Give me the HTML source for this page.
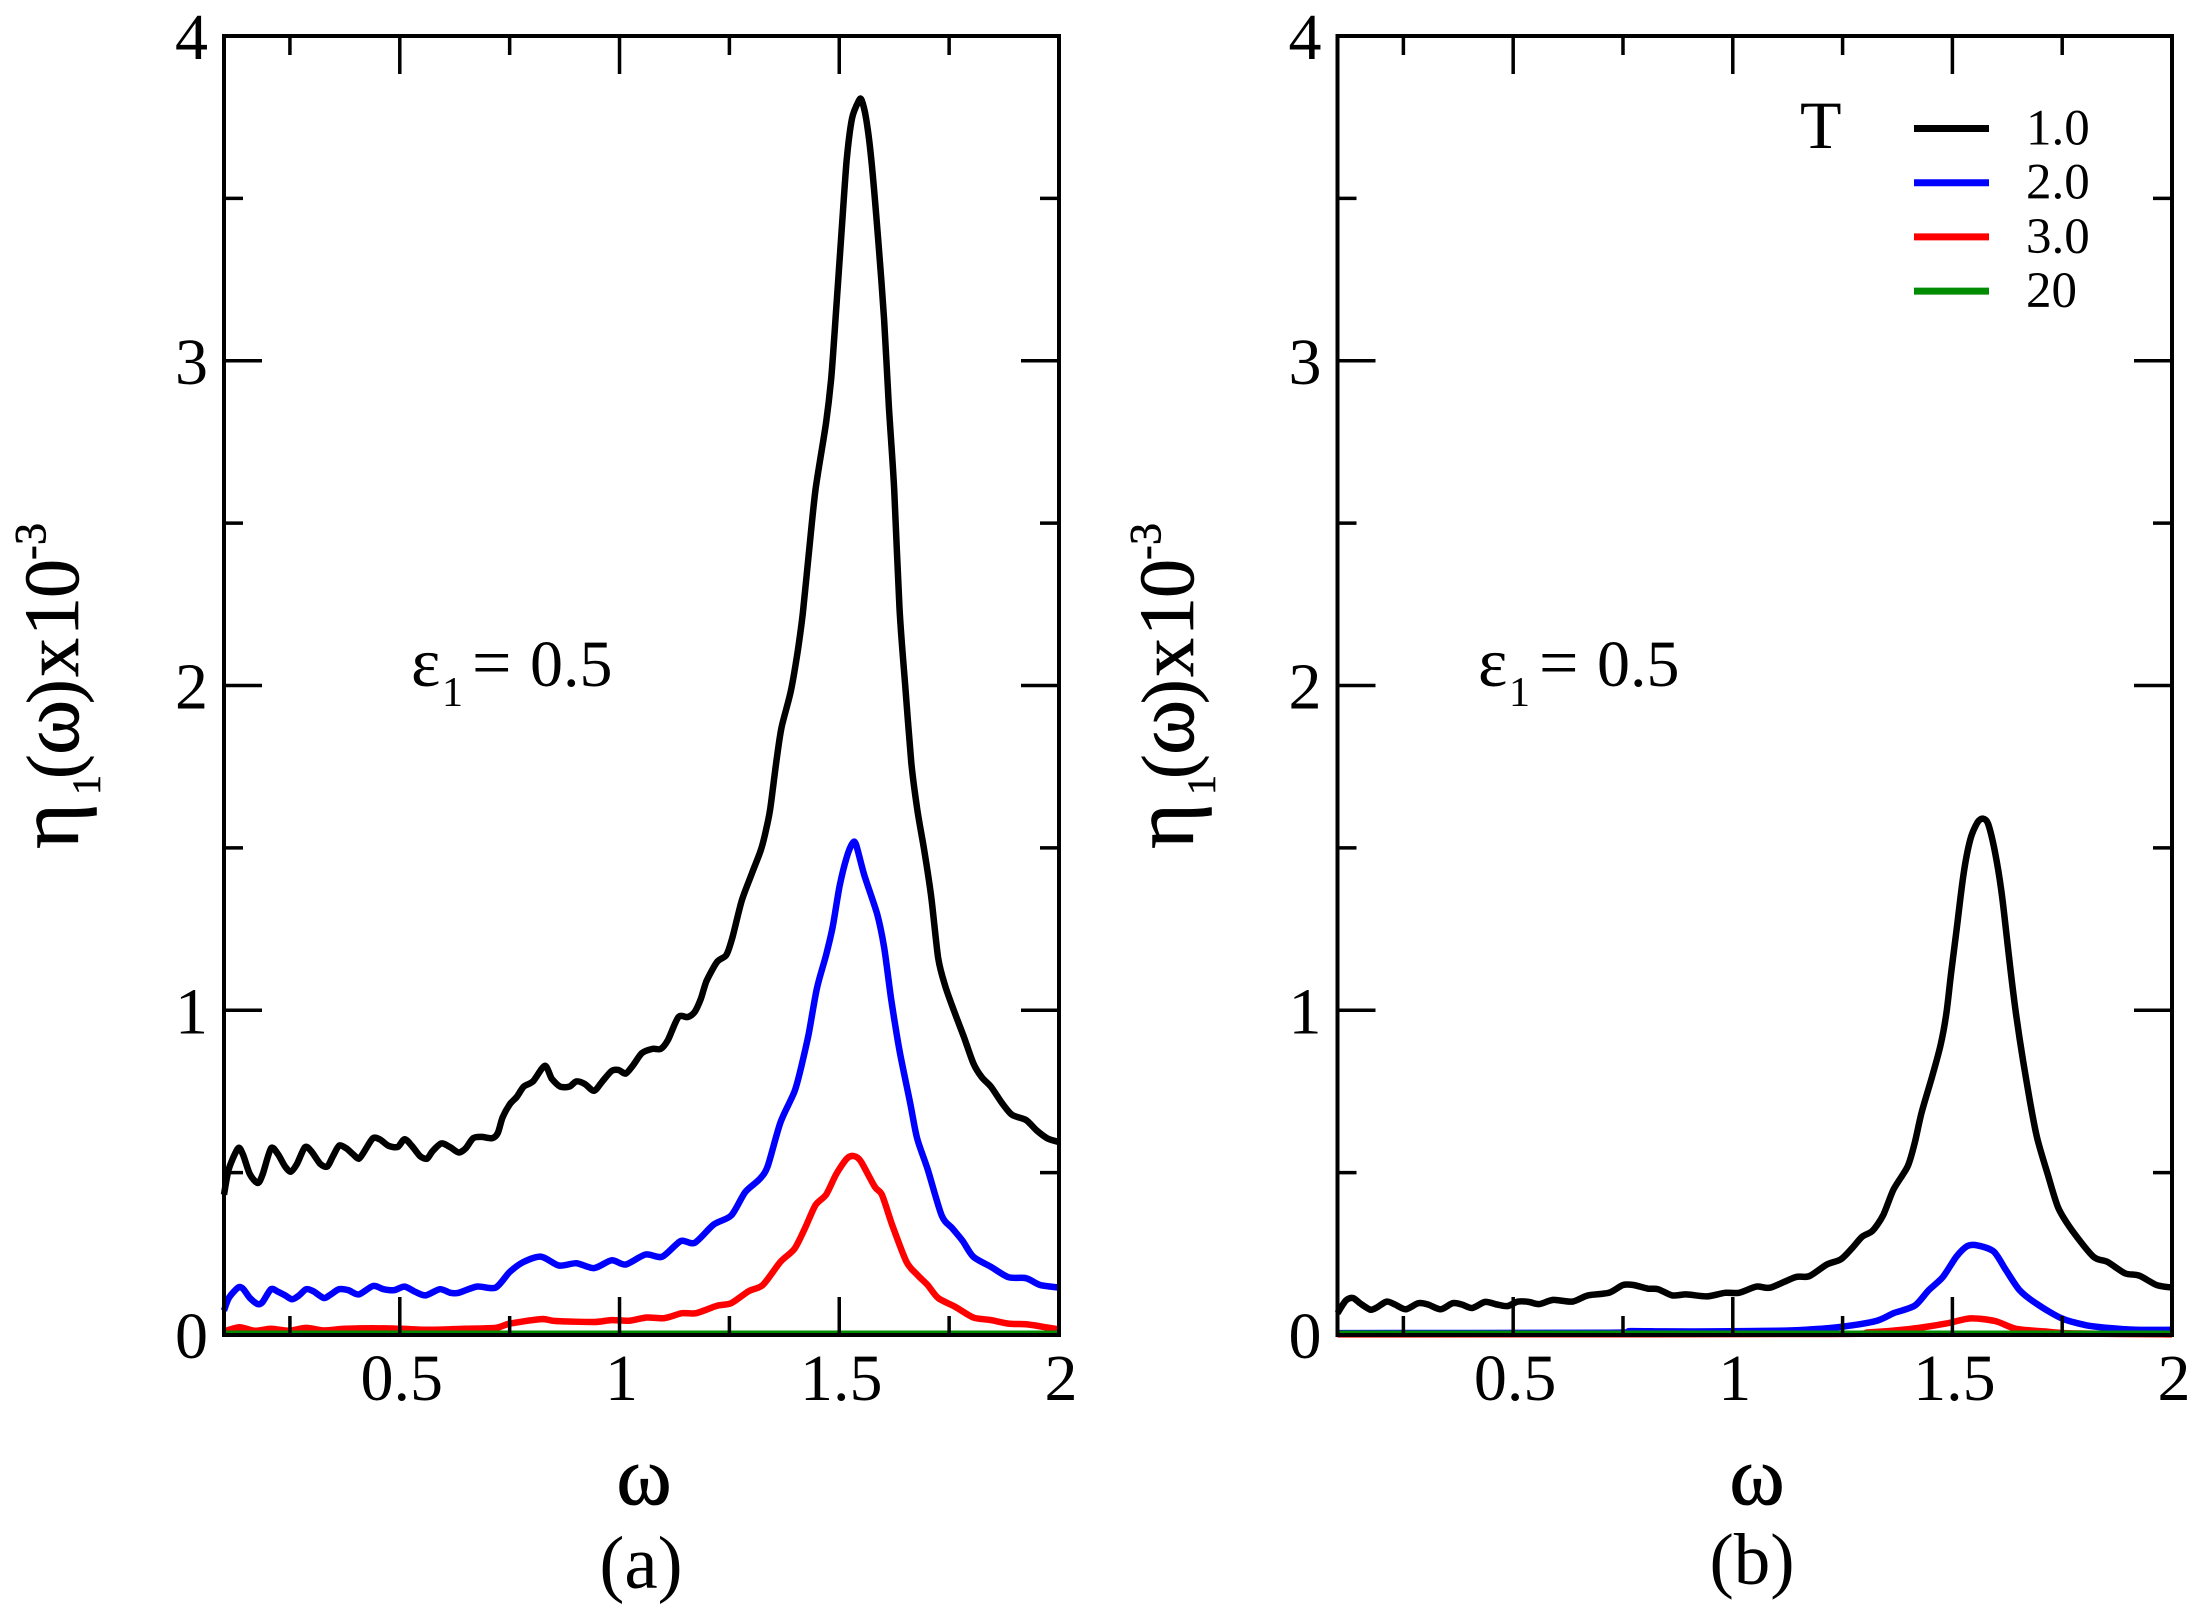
<!DOCTYPE html>
<html>
<head>
<meta charset="utf-8">
<title>Viscosity spectra</title>
<style>
html,body{margin:0;padding:0;background:#fff;}
svg{display:block;}
text{font-family:"Liberation Serif","DejaVu Serif",serif;fill:#000;}
</style>
</head>
<body>
<svg id="chart" xmlns="http://www.w3.org/2000/svg" width="2204" height="1616" viewBox="0 0 2204 1616">
  <rect x="0" y="0" width="2204" height="1616" fill="#fff"/>
  <g id="panel-a"></g>
  <g id="panel-b"></g>

  <g>
    <text transform="rotate(-90)" font-size="78" stroke="#000" stroke-width="0.6">
      <tspan x="-849" y="78" font-size="88">η</tspan><tspan x="-795" y="100" font-size="40">1</tspan><tspan x="-779" y="78" font-size="74">(</tspan><tspan x="-755" y="78" font-size="84">ω</tspan><tspan x="-704" y="78" font-size="74">)</tspan><tspan x="-677" y="78">x</tspan><tspan x="-636" y="78">1</tspan><tspan x="-598" y="78">0</tspan><tspan x="-560" y="45" font-size="44">-</tspan><tspan x="-545" y="45" font-size="44">3</tspan>
    </text>
  </g>
  <g transform="translate(1115,0)">
    <text transform="rotate(-90)" font-size="78" stroke="#000" stroke-width="0.6">
      <tspan x="-849" y="78" font-size="88">η</tspan><tspan x="-795" y="100" font-size="40">1</tspan><tspan x="-779" y="78" font-size="74">(</tspan><tspan x="-755" y="78" font-size="84">ω</tspan><tspan x="-704" y="78" font-size="74">)</tspan><tspan x="-677" y="78">x</tspan><tspan x="-636" y="78">1</tspan><tspan x="-598" y="78">0</tspan><tspan x="-560" y="45" font-size="44">-</tspan><tspan x="-545" y="45" font-size="44">3</tspan>
    </text>
  </g>

  <text x="644" y="1504" font-size="84" text-anchor="middle" stroke="#000" stroke-width="0.8">ω</text>
  <text x="1757" y="1504" font-size="84" text-anchor="middle" stroke="#000" stroke-width="0.8">ω</text>
  <text x="641" y="1588" font-size="75" text-anchor="middle">(a)</text>
  <text x="1752" y="1584" font-size="73" text-anchor="middle">(b)</text>

  <text font-size="66"><tspan x="411" y="686" font-size="70">ε</tspan><tspan x="442" y="706" font-size="42">1</tspan><tspan x="472" y="686" font-size="70">=</tspan><tspan x="530" y="686">0.5</tspan></text>
  <text font-size="66"><tspan x="1478" y="686" font-size="70">ε</tspan><tspan x="1509" y="706" font-size="42">1</tspan><tspan x="1539" y="686" font-size="70">=</tspan><tspan x="1597" y="686">0.5</tspan></text>

  <g>
    <text x="1800" y="148" font-size="68">T</text>
    <g id="legend-entries"></g>
  </g>
</svg>
<script>
// ---- shared axis settings ----
const xRange = [0.1, 2];
const yRange = [0, 4];
const xTicks = [0.25, 0.5, 0.75, 1, 1.25, 1.5, 1.75];
const xMajorLabels = ["0.5", "1", "1.5", "2"];
const xMajorValues = [0.5, 1, 1.5, 2];
const yTicks = [0.5, 1, 1.5, 2, 2.5, 3, 3.5];
const yMajorLabels = ["0", "1", "2", "3", "4"];
const yMajorValues = [0, 1, 2, 3, 4];

// ---- legend ----
const legendLabels = ["1.0", "2.0", "3.0", "20"];
const seriesColors = ["#000000", "#0000ff", "#ff0000", "#008b00"];

// ---- panel (a) data ----
const omegaA1 = [0.100,0.111,0.132,0.143,0.159,0.177,0.188,0.207,0.223,0.239,0.252,0.266,0.284,0.298,0.319,0.335,0.348,0.362,0.378,0.394,0.407,0.420,0.439,0.455,0.474,0.495,0.511,0.527,0.546,0.562,0.575,0.595,0.615,0.634,0.650,0.667,0.686,0.710,0.723,0.734,0.750,0.766,0.782,0.803,0.830,0.846,0.865,0.886,0.902,0.921,0.942,0.961,0.982,0.998,1.014,1.030,1.051,1.075,1.094,1.110,1.134,1.155,1.171,1.185,1.198,1.222,1.243,1.257,1.278,1.302,1.322,1.334,1.343,1.358,1.369,1.390,1.406,1.417,1.430,1.446,1.470,1.482,1.493,1.506,1.517,1.529,1.545,1.551,1.561,1.573,1.589,1.602,1.613,1.625,1.637,1.650,1.664,1.677,1.693,1.709,1.725,1.741,1.762,1.784,1.805,1.824,1.845,1.869,1.893,1.925,1.949,1.973,2.000];
const etaA1 = [0.432,0.511,0.575,0.556,0.495,0.468,0.495,0.575,0.556,0.519,0.503,0.527,0.578,0.567,0.527,0.519,0.551,0.583,0.575,0.556,0.543,0.567,0.606,0.602,0.583,0.579,0.603,0.583,0.551,0.543,0.567,0.590,0.578,0.562,0.575,0.606,0.610,0.606,0.622,0.670,0.710,0.733,0.765,0.781,0.829,0.789,0.765,0.765,0.781,0.773,0.752,0.781,0.813,0.816,0.805,0.829,0.868,0.881,0.881,0.908,0.979,0.979,0.995,1.035,1.090,1.149,1.170,1.225,1.337,1.424,1.495,1.559,1.622,1.778,1.873,1.984,2.111,2.222,2.397,2.603,2.810,2.952,3.159,3.413,3.619,3.746,3.802,3.802,3.746,3.619,3.365,3.127,2.857,2.603,2.238,2.000,1.762,1.622,1.495,1.352,1.162,1.075,0.995,0.916,0.837,0.794,0.765,0.717,0.678,0.662,0.630,0.606,0.594];
const omegaA2 = [0.100,0.111,0.132,0.143,0.159,0.177,0.188,0.207,0.223,0.239,0.255,0.271,0.287,0.303,0.327,0.343,0.362,0.383,0.407,0.439,0.463,0.487,0.511,0.535,0.559,0.591,0.615,0.634,0.675,0.718,0.750,0.782,0.822,0.862,0.902,0.942,0.982,1.014,1.059,1.097,1.139,1.171,1.214,1.254,1.286,1.318,1.337,1.366,1.398,1.414,1.430,1.449,1.470,1.485,1.501,1.517,1.530,1.538,1.557,1.586,1.602,1.618,1.637,1.661,1.677,1.701,1.733,1.757,1.781,1.805,1.845,1.885,1.925,1.957,2.000];
const etaA2 = [0.075,0.114,0.146,0.143,0.114,0.095,0.102,0.141,0.133,0.122,0.110,0.122,0.141,0.135,0.114,0.125,0.141,0.138,0.125,0.151,0.141,0.138,0.149,0.133,0.122,0.141,0.130,0.130,0.149,0.146,0.194,0.225,0.241,0.214,0.221,0.206,0.230,0.217,0.248,0.241,0.289,0.284,0.340,0.368,0.440,0.479,0.519,0.654,0.749,0.829,0.924,1.067,1.170,1.257,1.384,1.471,1.514,1.511,1.416,1.297,1.194,1.035,0.876,0.717,0.606,0.511,0.368,0.329,0.289,0.241,0.210,0.178,0.175,0.154,0.146];
const omegaA3 = [0.100,0.135,0.170,0.207,0.247,0.287,0.327,0.375,0.439,0.503,0.567,0.647,0.718,0.750,0.822,0.854,0.942,0.982,1.022,1.062,1.102,1.142,1.174,1.222,1.254,1.294,1.326,1.366,1.398,1.422,1.446,1.470,1.493,1.517,1.533,1.549,1.581,1.597,1.621,1.653,1.677,1.701,1.725,1.765,1.805,1.845,1.885,1.925,1.965,2.000];
const etaA3 = [0.011,0.024,0.013,0.019,0.013,0.022,0.014,0.019,0.021,0.019,0.016,0.019,0.022,0.035,0.049,0.043,0.040,0.046,0.044,0.054,0.052,0.067,0.067,0.090,0.098,0.135,0.154,0.225,0.265,0.329,0.400,0.432,0.495,0.543,0.551,0.535,0.456,0.432,0.337,0.225,0.186,0.154,0.114,0.086,0.054,0.046,0.035,0.033,0.025,0.017];
const omegaA4 = [0.100,1.000,2.000];
const etaA4 = [0.004,0.004,0.004];

// ---- panel (b) data ----
const omegaB1 = [0.100,0.119,0.135,0.151,0.175,0.191,0.212,0.231,0.255,0.284,0.306,0.335,0.362,0.383,0.407,0.436,0.463,0.487,0.511,0.535,0.559,0.591,0.635,0.670,0.718,0.750,0.774,0.806,0.830,0.862,0.894,0.942,0.982,1.014,1.054,1.086,1.142,1.174,1.214,1.246,1.270,1.294,1.318,1.342,1.366,1.398,1.414,1.430,1.454,1.473,1.486,1.497,1.509,1.525,1.541,1.557,1.569,1.581,1.597,1.613,1.629,1.645,1.661,1.677,1.693,1.717,1.741,1.773,1.821,1.853,1.893,1.925,1.965,2.000];
const etaB1 = [0.067,0.106,0.114,0.098,0.078,0.086,0.103,0.094,0.079,0.098,0.094,0.079,0.098,0.094,0.083,0.102,0.094,0.089,0.103,0.102,0.095,0.108,0.103,0.122,0.130,0.154,0.154,0.143,0.141,0.122,0.125,0.119,0.130,0.130,0.149,0.146,0.178,0.181,0.217,0.233,0.265,0.302,0.321,0.368,0.448,0.519,0.590,0.686,0.797,0.892,0.987,1.114,1.241,1.416,1.527,1.578,1.590,1.575,1.487,1.352,1.162,0.987,0.844,0.717,0.606,0.495,0.392,0.321,0.241,0.225,0.190,0.183,0.154,0.146];
const omegaB2 = [0.100,0.718,0.766,0.846,0.958,1.102,1.166,1.246,1.326,1.366,1.414,1.446,1.478,1.509,1.533,1.557,1.594,1.621,1.653,1.693,1.749,1.805,1.853,1.917,2.000];
const etaB2 = [0.006,0.007,0.012,0.011,0.011,0.013,0.016,0.025,0.043,0.067,0.090,0.138,0.178,0.241,0.273,0.276,0.257,0.202,0.138,0.095,0.051,0.030,0.022,0.016,0.016];
const omegaB3 = [0.100,1.200,1.310,1.406,1.485,1.541,1.597,1.645,1.709,1.773,2.000];
const etaB3 = [0.002,0.003,0.008,0.019,0.035,0.051,0.043,0.019,0.011,0.005,0.002];
const omegaB4 = [0.100,1.000,2.000];
const etaB4 = [0.004,0.004,0.004];

const SVGNS = "http://www.w3.org/2000/svg";

function makeEl(tag, parent) {
  const el = document.createElementNS(SVGNS, tag);
  parent.appendChild(el);
  return el;
}

function smoothPath(pts) {
  const t = 0.8 / 6;
  let d = "M" + pts[0][0].toFixed(1) + " " + pts[0][1].toFixed(1);
  for (let i = 0; i < pts.length - 1; i++) {
    const p0 = pts[i - 1] || pts[i];
    const p1 = pts[i];
    const p2 = pts[i + 1];
    const p3 = pts[i + 2] || p2;
    const c1x = p1[0] + (p2[0] - p0[0]) * t;
    const c1y = p1[1] + (p2[1] - p0[1]) * t;
    const c2x = p2[0] - (p3[0] - p1[0]) * t;
    const c2y = p2[1] - (p3[1] - p1[1]) * t;
    d += "C" + c1x.toFixed(1) + " " + c1y.toFixed(1) + " " + c2x.toFixed(1) + " " + c2y.toFixed(1) + " " + p2[0].toFixed(1) + " " + p2[1].toFixed(1);
  }
  return d;
}

function drawPanel(rootId, left, right, top, bottom, allSeries, prefix) {
  const root = document.getElementById(rootId);
  const sx = function (v) { return left + (v - xRange[0]) / (xRange[1] - xRange[0]) * (right - left); };
  const sy = function (v) { return bottom - (v - yRange[0]) / (yRange[1] - yRange[0]) * (bottom - top); };

  allSeries.forEach(function (s, i) {
    const line = makeEl("path", root);
    const pts = s.x.map(function (xv, k) { return [sx(xv), sy(s.y[k])]; });
    line.setAttribute("d", smoothPath(pts));
    line.setAttribute("fill", "none");
    line.setAttribute("stroke", seriesColors[i]);
    line.setAttribute("stroke-width", "6.5");
    line.setAttribute("stroke-linejoin", "round");
    
    
  });

  const frame = makeEl("rect", root);
  frame.setAttribute("x", left);
  frame.setAttribute("y", top);
  frame.setAttribute("width", right - left);
  frame.setAttribute("height", bottom - top);
  frame.setAttribute("fill", "none");
  frame.setAttribute("stroke", "#000");
  frame.setAttribute("stroke-width", "4");
  
  

  xTicks.forEach(function (v) {
    const isMajor = xMajorValues.indexOf(v) >= 0;
    const len = isMajor ? 38 : 19;
    [[bottom, bottom - len], [top, top + len]].forEach(function (p) {
      const t = makeEl("line", root);
      t.setAttribute("x1", sx(v));
      t.setAttribute("x2", sx(v));
      t.setAttribute("y1", p[0]);
      t.setAttribute("y2", p[1]);
      t.setAttribute("stroke", "#000");
      t.setAttribute("stroke-width", "3.5");
      
      
    });
  });

  yTicks.forEach(function (v) {
    const isMajor = yMajorValues.indexOf(v) >= 0;
    const len = isMajor ? 38 : 19;
    [[left, left + len], [right, right - len]].forEach(function (p) {
      const t = makeEl("line", root);
      t.setAttribute("y1", sy(v));
      t.setAttribute("y2", sy(v));
      t.setAttribute("x1", p[0]);
      t.setAttribute("x2", p[1]);
      t.setAttribute("stroke", "#000");
      t.setAttribute("stroke-width", "3.5");
      
      
    });
  });

  xMajorValues.forEach(function (v, i) {
    const t = makeEl("text", root);
    t.setAttribute("x", sx(v) + 2);
    t.setAttribute("y", bottom + 65);
    t.setAttribute("font-size", "66");
    t.setAttribute("text-anchor", "middle");
    t.textContent = xMajorLabels[i];
    
    
  });

  yMajorValues.forEach(function (v, i) {
    const t = makeEl("text", root);
    t.setAttribute("x", left - 16);
    t.setAttribute("y", sy(v) + 23);
    t.setAttribute("font-size", "66");
    t.setAttribute("text-anchor", "end");
    t.textContent = yMajorLabels[i];
    
    
  });
}

drawPanel("panel-a", 224, 1059, 36, 1335, [
  { x: omegaA1, y: etaA1 },
  { x: omegaA2, y: etaA2 },
  { x: omegaA3, y: etaA3 },
  { x: omegaA4, y: etaA4 }
], "panel-a");

drawPanel("panel-b", 1337.5, 2172, 36, 1335, [
  { x: omegaB1, y: etaB1 },
  { x: omegaB2, y: etaB2 },
  { x: omegaB3, y: etaB3 },
  { x: omegaB4, y: etaB4 }
], "panel-b");

const legendRoot = document.getElementById("legend-entries");
legendLabels.forEach(function (label, i) {
  const y = 128.5 + i * 54.2;
  const sw = makeEl("line", legendRoot);
  sw.setAttribute("x1", 1914);
  sw.setAttribute("x2", 1989);
  sw.setAttribute("y1", y);
  sw.setAttribute("y2", y);
  sw.setAttribute("stroke", seriesColors[i]);
  sw.setAttribute("stroke-width", "7");
  
  
  const t = makeEl("text", legendRoot);
  t.setAttribute("x", 2026);
  t.setAttribute("y", y + 16);
  t.setAttribute("font-size", "51");
  t.textContent = label;
  
  
});
</script>
</body>
</html>
